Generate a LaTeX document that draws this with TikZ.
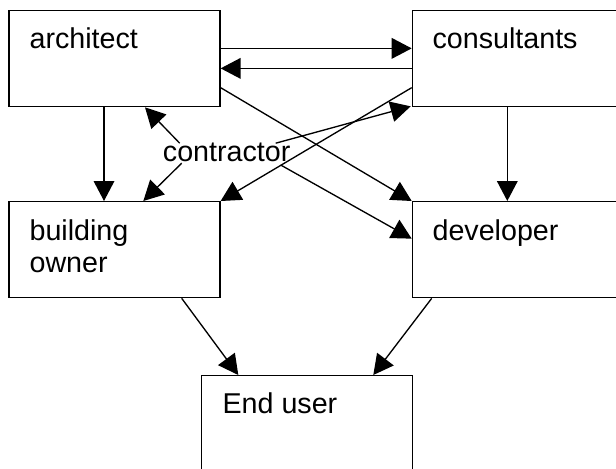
\documentclass[tikz,border=0pt]{standalone}
\usepackage{fontspec}
\setmainfont{Liberation Sans}
\usetikzlibrary{arrows.meta,calc}
\begin{document}
\begin{tikzpicture}[x=0.75pt,y=-0.75pt,
  box/.style={draw,line width=1pt,minimum width=211*0.75pt,minimum height=96*0.75pt,inner sep=0pt,anchor=north west},
  lbl/.style={inner sep=0pt,anchor=base west,font=\fontsize{21.5}{24.75}\selectfont},
  arr/.style={line width=1pt,-{Triangle[length=15pt,width=15.5pt]}}]
\useasboundingbox (0,0) rectangle (616,468);
\node[box] (arch) at (8.3,10) {};
\node[box,minimum width=260*0.75pt] (cons) at (411.7,10) {};
\node[box] (own) at (8.3,201) {};
\node[box,minimum width=260*0.75pt] (dev) at (411.7,201) {};
\node[box] (end) at (200.7,375) {};
\node[lbl] (tarch) at (29.3,48.3) {architect};
\node[lbl] (tcons) at (432.3,48.3) {consultants};
\node[lbl] (town1) at (29.3,240) {building};
\node[lbl] (town2) at (29.3,272.7) {owner};
\node[lbl] (tdev) at (432.3,240) {developer};
\node[lbl] (tend) at (222.3,413.3) {End user};
\node[lbl] (contr) at (162.7,161.7) {contractor};
% architect <-> consultants
\draw[arr] ($(arch.east)+(0,-10.3)$) -- ($(cons.west)+(0,-10.3)$);
\draw[arr] ($(cons.west)+(0,9.7)$) -- ($(arch.east)+(0,9.7)$);
% diagonals
\draw[arr] ($(arch.east)+(0,29)$) -- (dev.north west);
\draw[arr] ($(cons.west)+(0,29)$) -- (own.north east);
% verticals
\draw[arr] ($(arch.south west)+(95.7,0)$) -- ($(own.north west)+(95.7,0)$);
\draw[arr] ($(cons.south west)+(95.6,0)$) -- ($(dev.north west)+(95.6,0)$);
% contractor arrows
\draw[arr] ($(contr.base west)+(17,-18.5)$) -- ($(arch.south west)+(136.7,0)$);
\draw[arr] ($(contr.base west)+(19,1.5)$) -- ($(own.north west)+(135,0)$);
\draw[arr] ($(contr.base east)+(-15,-18.5)$) -- ($(cons.south west)+(-1,-1)$);
\draw[arr] ($(contr.base east)+(-10,3.3)$) -- ($(dev.west)+(0,-11)$);
% to end user
\draw[arr] ($(own.south west)+(173.4,0)$) -- ($(end.north west)+(37.6,0)$);
\draw[arr] ($(dev.south west)+(20,0)$) -- ($(end.north west)+(172.6,0)$);
\end{tikzpicture}
\end{document}
